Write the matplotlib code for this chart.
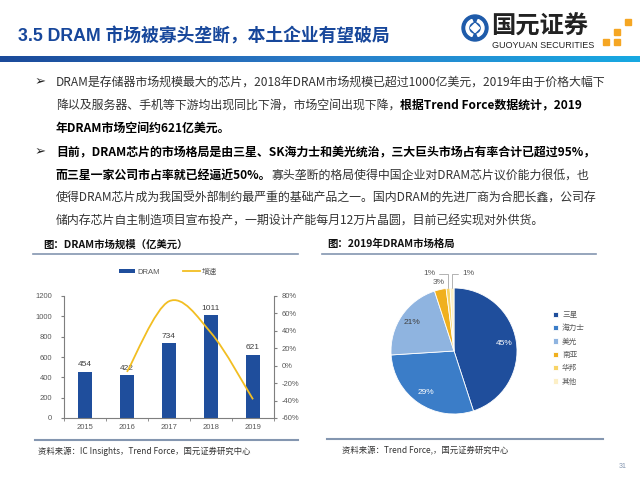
import matplotlib
matplotlib.use('Agg')
import matplotlib.pyplot as plt
import matplotlib.patches as mpatches
from matplotlib.path import Path
from matplotlib.ticker import PercentFormatter
import numpy as np

CJK = ['Liberation Sans', 'Noto Sans CJK SC', 'DejaVu Sans']
plt.rcParams['font.family'] = CJK
plt.rcParams['axes.unicode_minus'] = False

# chart data
years = ['2015', '2016', '2017', '2018', '2019']
dram_size = [454, 422, 734, 1011, 621]          # 亿美元
vendors = ['三星', '海力士', '美光', '南亚', '华邦', '其他']
shares = [45, 29, 21, 3, 1, 1]                   # %
left_yticks = [0, 200, 400, 600, 800, 1000, 1200]
right_yticks = [-0.6, -0.4, -0.2, 0, 0.2, 0.4, 0.6, 0.8]

BLUE = '#1F4E9C'
GOLD = '#F2BE22'
GRAY = '#595959'
pie_colors = ['#1F4E9C', '#3B7DC8', '#8FB4E0', '#F0B01E', '#F8D466', '#FCEFC6']

# body text: (text, bold) segments per line
body = [
    [('DRAM是存储器市场规模最大的芯片，2018年DRAM市场规模已超过1000亿美元，2019年由于价格大幅下', False)],
    [('降以及服务器、手机等下游均出现同比下滑，市场空间出现下降，', False),
     ('根据Trend Force数据统计，2019', True)],
    [('年DRAM市场空间约621亿美元。', True)],
    [('目前，DRAM芯片的市场格局是由三星、SK海力士和美光统治，三大巨头市场占有率合计已超过95%，', True)],
    [('而三星一家公司市占率就已经逼近50%。', True),
     ('寡头垄断的格局使得中国企业对DRAM芯片议价能力很低，也', False)],
    [('使得DRAM芯片成为我国受外部制约最严重的基础产品之一。国内DRAM的先进厂商为合肥长鑫，公司存', False)],
    [('储内存芯片自主制造项目宣布投产，一期设计产能每月12万片晶圆，目前已经实现对外供货。', False)],
]
body_y = [82, 105, 128, 152, 175, 198, 221]
bullet_rows = [0, 3]

fig = plt.figure(figsize=(6.4, 4.8), dpi=100)

# background canvas in pixel units
bg = fig.add_axes([0, 0, 1, 1])
bg.set_xlim(0, 640)
bg.set_ylim(480, 0)
bg.axis('off')

# title and header bar
bg.text(18, 36, '3.5 DRAM 市场被寡头垄断，本土企业有望破局', fontsize=12.8,
        fontweight='bold', color='#17479B', va='center', ha='left')
grad = np.linspace(0, 1, 256).reshape(1, -1)
cmap = matplotlib.colors.LinearSegmentedColormap.from_list('hdr', ['#1B4A9A', '#2A7CC8', '#18A9E2'])
bg.imshow(grad, cmap=cmap, extent=[0, 640, 62, 56], aspect='auto', zorder=1)
bg.set_xlim(0, 640)
bg.set_ylim(480, 0)

# logo
bg.add_patch(mpatches.Circle((475, 28), 13, color='#1E5BAA'))
bg.add_patch(mpatches.Wedge((475, 28), 9, 110, 250, width=2.5, color='white'))
bg.add_patch(mpatches.Wedge((475, 28), 9, 290, 70, width=2.5, color='white'))
bg.add_patch(mpatches.RegularPolygon((475, 28), 4, radius=4.5, color='white'))
bg.text(491, 27, '国元证券', fontsize=17.5, fontweight='bold', color='#222222',
        va='center', ha='left', family=['Noto Sans CJK SC'])
bg.text(492, 45, 'GUOYUAN SECURITIES', fontsize=6.5, color='#222222',
        va='center', ha='left')
for sx, sy in [(628, 22), (617, 32), (606, 42), (617, 42)]:
    bg.add_patch(mpatches.Rectangle((sx - 3, sy - 3), 6, 6, color='#F5A623'))

# body text
def draw_line(x, y, segs, size=8.6):
    t = None
    for s, bold in segs:
        kw = dict(fontsize=size, fontweight='bold' if bold else 'normal',
                  color='#000000' if bold else '#333333',
                  family=['Noto Sans CJK SC', 'DejaVu Sans'], va='center', ha='left')
        if t is None:
            t = bg.text(x, y, s, **kw)
        else:
            t = bg.annotate(s, xy=(1, 0.5), xycoords=t, **kw)

for i, (segs, y) in enumerate(zip(body, body_y)):
    if i in bullet_rows:
        bg.text(40, y, '\u27a2', fontsize=9.5, color='#222222', va='center', ha='center',
                family=['DejaVu Sans'])
    draw_line(56, y, segs)

# chart headers / rules
bg.text(43, 245, '图：DRAM市场规模（亿美元）', fontsize=7.5, fontweight='bold',
        color='#111111', va='center', ha='left', family=['Noto Sans CJK SC'])
bg.text(327, 244, '图：2019年DRAM市场格局', fontsize=7.5, fontweight='bold',
        color='#111111', va='center', ha='left', family=['Noto Sans CJK SC'])
bg.plot([33, 298], [254, 254], color='#8496B0', lw=1.2)
bg.plot([322, 596], [254, 254], color='#8496B0', lw=1.2)
bg.plot([35, 298], [440, 440], color='#8496B0', lw=1.5)
bg.plot([327, 603], [439, 439], color='#8496B0', lw=1.5)
bg.text(38, 451, '资料来源：IC Insights，Trend Force，国元证券研究中心', fontsize=6,
        color='#333333', va='center', ha='left', family=['Noto Sans CJK SC'])
bg.text(342, 451, '资料来源：Trend Force,，国元证券研究中心', fontsize=6,
        color='#333333', va='center', ha='left', family=['Noto Sans CJK SC'])
bg.text(623, 466, '31', fontsize=5, color='#8496B0', va='center', ha='center')

# ---- bar + growth chart
ax = fig.add_axes([64 / 640, 1 - 418 / 480, 210 / 640, 122 / 480])
x = np.arange(len(years))
bars = ax.bar(x, dram_size, width=0.31, color=BLUE, label='DRAM', zorder=2)
for xi, v in zip(x, dram_size):
    ax.text(xi, v + 35, str(v), ha='center', va='bottom', fontsize=6, color='#404040')
ax.set_xlim(-0.5, len(years) - 0.5)
ax.set_ylim(0, 1200)
ax.set_yticks(left_yticks)
ax.set_xticks(x)
ax.set_xticklabels(years)
ax.set_xticks(np.arange(len(years) + 1) - 0.5, minor=True)
ax.tick_params(axis='x', which='major', length=0, labelsize=5.5, labelcolor=GRAY, pad=4)
ax.tick_params(axis='x', which='minor', length=2.5, color='#7F7F7F', direction='out')
ax.tick_params(axis='y', length=2.5, color='#7F7F7F', labelsize=5.5, labelcolor=GRAY, pad=6)
for side in ['top', 'right']:
    ax.spines[side].set_visible(False)
for side in ['left', 'bottom']:
    ax.spines[side].set_color('#7F7F7F')
    ax.spines[side].set_linewidth(0.8)
ax.patch.set_alpha(0)

ax2 = ax.twinx()
growth = [dram_size[i] / dram_size[i - 1] - 1 for i in range(1, len(dram_size))]
gx = x[1:]
# smooth curve through the points (Catmull-Rom -> cubic Bezier)
pts = np.column_stack([gx, growth])
ext = np.vstack([pts[0], pts, pts[-1]])
verts = [tuple(pts[0])]
codes = [Path.MOVETO]
for k in range(len(pts) - 1):
    p0, p1, p2, p3 = ext[k], ext[k + 1], ext[k + 2], ext[k + 3]
    c1 = p1 + (p2 - p0) / 6
    c2 = p2 - (p3 - p1) / 6
    verts += [tuple(c1), tuple(c2), tuple(p2)]
    codes += [Path.CURVE4] * 3
ax2.add_patch(mpatches.PathPatch(Path(verts, codes), fill=False, edgecolor=GOLD, lw=1.3, zorder=3))
line_handle, = ax2.plot([], [], color=GOLD, lw=1.3, label='增速')
ax2.set_ylim(-0.6, 0.8)
ax2.set_yticks(right_yticks)
ax2.yaxis.set_major_formatter(PercentFormatter(1.0, decimals=0))
ax2.tick_params(axis='y', length=2.5, color='#7F7F7F', labelsize=5.5, labelcolor=GRAY, pad=3)
for side in ['top', 'left', 'bottom']:
    ax2.spines[side].set_visible(False)
ax2.spines['right'].set_color('#7F7F7F')
ax2.spines['right'].set_linewidth(0.8)

fig.legend(handles=[bars, line_handle], labels=['DRAM', '增速'], loc='center',
           bbox_to_anchor=(168 / 640, 1 - 272 / 480), ncol=2, frameon=False,
           fontsize=5.5, labelcolor=GRAY, handlelength=2.2, handleheight=0.5,
           columnspacing=3, handletextpad=0.3)

# ---- pie chart
pax = fig.add_axes([(454 - 63) / 640, 1 - (351 + 63) / 480, 126 / 640, 126 / 480])
wedges, _ = pax.pie(shares, colors=pie_colors, startangle=90, counterclock=False,
                    wedgeprops=dict(edgecolor='white', linewidth=0.6))
pax.set_xlim(-1, 1)
pax.set_ylim(-1, 1)
pax.set_aspect('equal')

inside_color = ['white', 'white', '#404040']
for i, w in enumerate(wedges[:3]):
    a = np.deg2rad((w.theta1 + w.theta2) / 2)
    pax.text(0.8 * np.cos(a), 0.8 * np.sin(a), f'{shares[i]}%', ha='center', va='center',
             fontsize=6, color=inside_color[i])
# 3% label
a = np.deg2rad((wedges[3].theta1 + wedges[3].theta2) / 2)
pax.text(1.12 * np.cos(a), 1.12 * np.sin(a), f'{shares[3]}%', ha='center', va='center',
         fontsize=6, color=GRAY)
# 1% labels with leader lines
for i, tx in [(4, -0.30), (5, 0.13)]:
    w = wedges[i]
    a = np.deg2rad((w.theta1 + w.theta2) / 2)
    pax.annotate(f'{shares[i]}%', xy=(np.cos(a), np.sin(a)), xytext=(tx, 1.23),
                 ha='left' if tx > 0 else 'right', va='center', fontsize=6, color=GRAY,
                 arrowprops=dict(arrowstyle='-', color='#A6A6A6', lw=0.6,
                                 connectionstyle='angle,angleA=0,angleB=90,rad=0',
                                 shrinkA=1, shrinkB=0))

fig.legend(wedges, vendors, loc='upper left', bbox_to_anchor=(546 / 640, 1 - 304 / 480),
           frameon=False, fontsize=5.5, labelcolor=GRAY, handlelength=0.7,
           handleheight=0.7, labelspacing=0.7, handletextpad=0.5,
           prop={'family': ['Noto Sans CJK SC'], 'size': 5.5})

fig.savefig('out.png', dpi=100)
